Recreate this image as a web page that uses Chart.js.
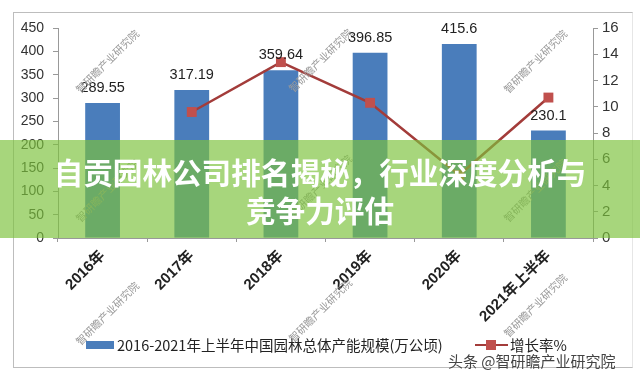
<!DOCTYPE html>
<html>
<head>
<meta charset="utf-8">
<script src="https://cdn.jsdelivr.net/npm/chart.js@4"></script>
<style>
  html, body { margin: 0; padding: 0; background: #fff; }
  #wrap { position: relative; width: 640px; height: 378px; overflow: hidden; background: #fff; }
  #frame { position: absolute; left: 13px; top: 12px; width: 618px; height: 354px; border: 1px solid #bdbdbd; border-right-color: #e6e6e6; }
  canvas { position: absolute; left: 0; top: 0; }
  .wm { position: absolute; font: 10.5px "Noto Sans CJK SC", sans-serif; color: #9a9a9a; white-space: nowrap; transform: translate(-50%, -50%) rotate(-45deg); }
  #banner { position: absolute; left: 0; top: 140px; width: 640px; height: 98px; background: rgba(124,194,60,0.67); }
  .bt { position: absolute; left: 0; width: 640px; text-align: center; color: #fff; font: bold 29.6px "Noto Sans CJK SC", sans-serif; line-height: 38px; }
  .leg { position: absolute; font: 14.5px "Noto Sans CJK SC", sans-serif; color: #222; white-space: nowrap; line-height: 18px; }
</style>
</head>
<body>
<div id="wrap">
  <div id="frame"></div>
  <canvas id="c" width="640" height="378"></canvas>
  <div class="wm" style="left:107px;top:61px">智研瞻产业研究院</div>
  <div class="wm" style="left:320px;top:60px">智研瞻产业研究院</div>
  <div class="wm" style="left:535px;top:61px">智研瞻产业研究院</div>
  <div class="wm" style="left:107px;top:190px">智研瞻产业研究院</div>
  <div class="wm" style="left:320px;top:186px">智研瞻产业研究院</div>
  <div class="wm" style="left:535px;top:190px">智研瞻产业研究院</div>
  <div class="wm" style="left:107px;top:313px">智研瞻产业研究院</div>
  <div class="wm" style="left:320px;top:310px">智研瞻产业研究院</div>
  <div class="wm" style="left:535px;top:305px">智研瞻产业研究院</div>
  <div id="banner"></div>
  <div class="bt" style="top:153px">自贡园林公司排名揭秘，行业深度分析与</div>
  <div class="bt" style="top:191px">竞争力评估</div>
  <div style="position:absolute;left:86px;top:341px;width:28px;height:8px;background:#4a7dbb"></div>
  <div class="leg" style="left:117px;top:336px">2016-2021年上半年中国园林总体产能规模(万公顷)</div>
  <div style="position:absolute;left:475px;top:344px;width:33px;height:2px;background:#a33c3a"></div>
  <div style="position:absolute;left:486px;top:340px;width:10px;height:10px;background:#c0504d"></div>
  <div class="leg" style="left:510px;top:336px">增长率%</div>
  <div class="leg" style="left:448px;top:352px;color:#444;font-size:15px">头条 @智研瞻产业研究院</div>
</div>
<script>
const categories = ['2016年', '2017年', '2018年', '2019年', '2020年', '2021年上半年'];
const capacity = [289.55, 317.19, 359.64, 396.85, 415.6, 230.1];
const growthRate = [null, 9.6, 13.4, 10.3, 4.8, 10.7];
const leftTickMax = 450, leftTickStep = 50;
const rightTickMax = 16, rightTickStep = 2;

const FONT = '"Liberation Sans", "Noto Sans CJK SC", sans-serif';

const barLabels = {
  id: 'barLabels',
  afterDatasetsDraw(chart) {
    const meta = chart.getDatasetMeta(0);
    const ctx = chart.ctx;
    ctx.save();
    ctx.font = '14.5px ' + FONT;
    ctx.fillStyle = '#222';
    ctx.textAlign = 'center';
    ctx.textBaseline = 'middle';
    meta.data.forEach((bar, i) => {
      ctx.fillText(String(capacity[i]), bar.x, bar.y - 15);
    });
    ctx.restore();
  }
};

new Chart(document.getElementById('c'), {
  data: {
    labels: categories,
    datasets: [
      {
        type: 'bar',
        label: '2016-2021年上半年中国园林总体产能规模(万公顷)',
        data: capacity,
        backgroundColor: '#4a7dbb',
        yAxisID: 'y',
        categoryPercentage: 1,
        barPercentage: 0.39,
        order: 2
      },
      {
        type: 'line',
        label: '增长率%',
        data: growthRate,
        yAxisID: 'y1',
        borderColor: '#a33c3a',
        borderWidth: 2.5,
        pointStyle: 'rect',
        pointRadius: 7,
        pointBackgroundColor: '#c0504d',
        pointBorderColor: '#c0504d',
        pointBorderWidth: 0,
        tension: 0,
        order: 1
      }
    ]
  },
  options: {
    responsive: false,
    animation: false,
    devicePixelRatio: 1,
    layout: { padding: { left: 13, right: 0, top: 28, bottom: 0 } },
    plugins: { legend: { display: false }, tooltip: { enabled: false } },
    scales: {
      x: {
        offset: true,
        grid: { display: true, drawOnChartArea: false, drawTicks: true, tickLength: 4, color: '#999', offset: true },
        border: { color: '#999' },
        ticks: { maxRotation: 45, minRotation: 45, autoSkip: false, padding: 5, color: '#222', font: { size: 15, weight: 'bold', family: FONT } },
        afterFit(s) { s.height = 140; }
      },
      y: {
        position: 'left',
        min: 0, max: leftTickMax,
        grid: { drawOnChartArea: false, drawTicks: true, tickLength: 5, color: '#999' },
        border: { color: '#999' },
        ticks: { stepSize: leftTickStep, padding: 9, color: '#333', font: { size: 14, family: FONT } },
        afterFit(s) { s.width = 45; }
      },
      y1: {
        position: 'right',
        min: 0, max: rightTickMax,
        grid: { drawOnChartArea: false, drawTicks: true, tickLength: 5, color: '#999' },
        border: { color: '#999' },
        ticks: { stepSize: rightTickStep, padding: 4, color: '#333', font: { size: 15, family: FONT } },
        afterFit(s) { s.width = 47; }
      }
    }
  },
  plugins: [barLabels]
});
</script>
</body>
</html>
